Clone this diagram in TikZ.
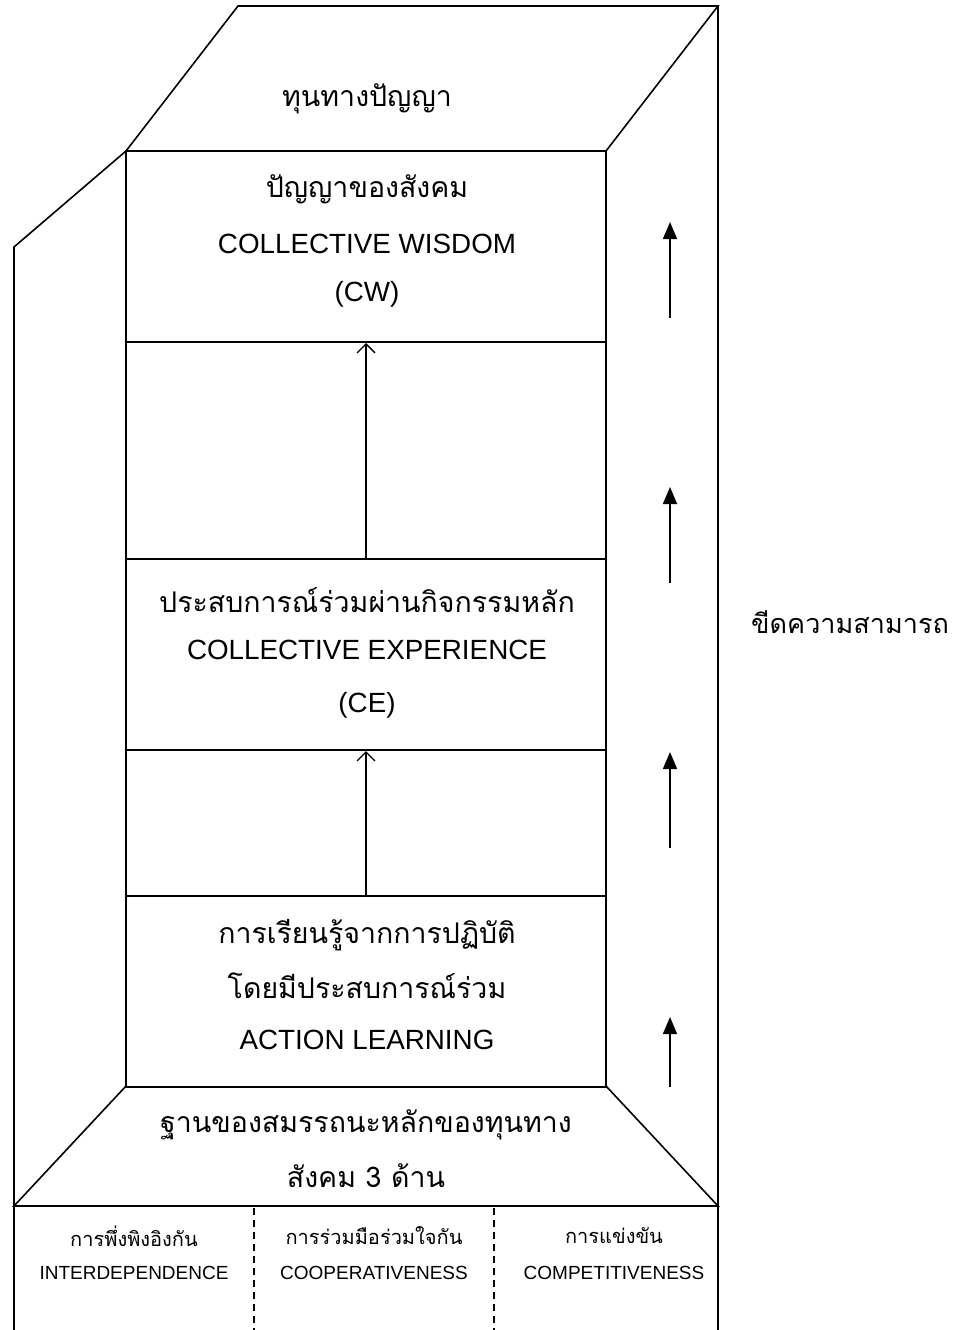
\documentclass[tikz,border=0pt]{standalone}
\usepackage{fontspec}
\setmainfont{Liberation Sans}
\newfontfamily\thai[Script=Thai]{Loma}
\usetikzlibrary{arrows.meta}
\begin{document}
\begin{tikzpicture}[x=1pt,y=-1pt,
  frame/.style={line width=1.6pt,line join=miter},
  layer/.style={draw,line width=2pt,minimum width=480pt,minimum height=191pt,inner sep=0pt},
  rise/.style={line width=1.3pt,-{Straight Barb[length=9pt,width=18pt,line width=1.3pt]}},
  growth/.style={line width=1.6pt,-{Triangle[length=17pt,width=14pt]}},
  big/.style={font=\fontsize{27.8}{32}\selectfont},
  bigth/.style={font=\thai\fontsize{28.5}{32}\selectfont},
  small/.style={font=\fontsize{19}{22}\selectfont},
  smallth/.style={font=\thai\fontsize{20}{23}\selectfont}]
\useasboundingbox (0,0) rectangle (958,1330);
% outer prism outline
\draw[frame] (14,1330) -- (14,247) -- (126,151) -- (238,6) -- (718,6) -- (606,151);
\draw[frame] (718,6) -- (718,1330);
\draw[frame] (126,151) -- (126,1086);
\draw[frame] (606,151) -- (606,1086);
% base trapezoid and floor
\draw[frame] (126,1086) -- (14,1206) -- (718,1206) -- (606,1086);
\draw[line width=1.3pt,dash pattern=on 7pt off 5pt] (254,1208) -- (254,1330);
\draw[line width=1.3pt,dash pattern=on 7pt off 5pt] (494,1208) -- (494,1330);
% three stacked layers
\node[layer] (cw) at (366,246.5) {};
\node[layer] (ce) at (366,654.5) {};
\node[layer] (al) at (366,991) {};
\node[bigth] (tcap) at (367,99) {ทุนทางปัญญา};
\node[bigth] (cw1) at (367,189) {ปัญญาของสังคม};
\node[big] (cw2) at (367,244) {COLLECTIVE WISDOM};
\node[big] (cw3) at (367,294) {(CW)};
\node[bigth] (ce1) at (367,600) {ประสบการณ์ร่วมผ่านกิจกรรมหลัก};
\node[big] (ce2) at (367,650) {COLLECTIVE EXPERIENCE};
\node[big] (ce3) at (367,705) {(CE)};
\node[bigth] (al1) at (367,935) {การเรียนรู้จากการปฏิบัติ};
\node[bigth] (al2) at (367,986) {โดยมีประสบการณ์ร่วม};
\node[big] (al3) at (367,1040) {ACTION LEARNING};
\node[bigth] (b1) at (366,1125) {ฐานของสมรรถนะหลักของทุนทาง};
\node[bigth] (b2) at (366,1176) {สังคม 3 ด้าน};
% competencies
\node[smallth] (c1a) at (134,1236) {การพึ่งพิงอิงกัน};
\node[small] (c1b) at (134,1273) {INTERDEPENDENCE};
\node[smallth] (c2a) at (374,1236) {การร่วมมือร่วมใจกัน};
\node[small] (c2b) at (374,1273) {COOPERATIVENESS};
\node[smallth] (c3a) at (614,1236) {การแข่งขัน};
\node[small] (c3b) at (614,1273) {COMPETITIVENESS};
\node[font=\thai\fontsize{27}{30}\selectfont] (cap) at (850,622) {ขีดความสามารถ};
% arrows between layers
\draw[rise] (al.north) -- (ce.south);
\draw[rise] (ce.north) -- (cw.south);
% capability arrows
\coordinate (g1a) at (670,318); \coordinate (g1b) at (670,222);
\coordinate (g2a) at (670,583); \coordinate (g2b) at (670,487);
\coordinate (g3a) at (670,848); \coordinate (g3b) at (670,752);
\coordinate (g4a) at (670,1087); \coordinate (g4b) at (670,1017);
\draw[growth] (g1a) -- (g1b);
\draw[growth] (g2a) -- (g2b);
\draw[growth] (g3a) -- (g3b);
\draw[growth] (g4a) -- (g4b);
\end{tikzpicture}
\end{document}
